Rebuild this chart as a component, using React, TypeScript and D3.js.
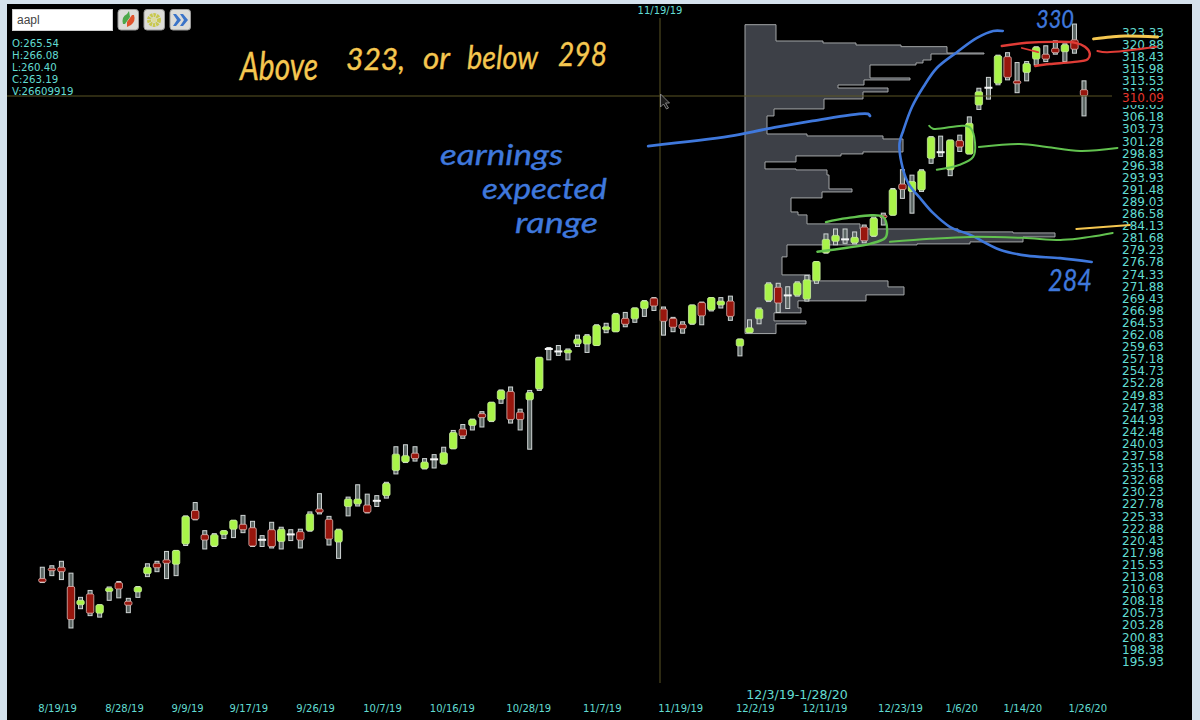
import React from "react";
import * as d3 from "d3";

// Daily candles, oldest first
const highs = [215.0,215.3,216.2,213.8,208.9,210.3,207.4,211.0,212.1,208.7,211.1,215.7,216.2,218.2,218.4,225.4,228.1,222.4,221.8,222.4,224.5,225.5,224.3,221.4,224.1,223.1,222.6,222.7,226.2,229.9,225.3,222.7,229.2,231.7,229.8,229.5,232.2,239.4,239.8,239.4,237.0,237.8,239.3,242.7,243.9,245.0,246.5,248.4,250.9,251.5,247.0,250.8,257.5,259.5,259.9,259.2,262.0,262.1,264.1,264.4,266.4,266.6,267.5,269.0,269.6,267.7,265.6,264.7,268.1,268.7,269.6,269.6,269.9,261.2,265.1,267.5,272.6,272.5,271.8,272.8,274.1,276.9,282.5,283.5,283.5,282.9,284.3,285.9,286.7,291.7,295.5,294.4,295.5,302.2,302.3,301.5,302.5,306.2,312.0,314.2,318.7,319.2,317.2,317.4,320.4,320.6,321.6,321.0,325.0,313.5];
const lows = [211.9,213.3,212.5,202.7,206.6,205.2,204.9,208.3,208.8,205.8,208.9,213.1,214.1,212.7,213.3,219.4,224.6,218.7,219.2,220.8,221.0,222.0,219.2,219.2,218.9,218.7,220.4,218.9,222.3,225.8,219.5,216.8,225.4,227.4,226.0,227.3,229.0,233.9,236.2,236.5,234.9,235.1,235.9,239.0,241.1,242.8,243.4,244.5,248.2,244.2,242.8,238.9,250.8,257.0,257.9,257.0,259.7,258.5,259.9,262.5,262.7,263.7,264.6,265.8,267.0,262.0,262.7,262.4,264.2,264.1,266.9,267.5,265.0,257.8,262.5,264.3,268.8,266.6,267.4,269.9,268.9,272.5,278.6,280.3,280.6,280.5,280.7,282.0,284.3,286.3,289.7,286.7,291.1,296.8,298.2,294.3,299.2,298.7,307.7,309.8,312.7,313.7,311.1,313.5,316.7,317.4,318.9,317.4,319.1,306.4];
const opens = [212.7,214.8,215.0,211.1,207.4,209.6,205.7,210.1,211.9,208.1,210.0,213.7,215.8,216.5,215.6,219.7,226.5,221.6,219.3,221.6,222.7,223.7,223.0,220.6,222.6,220.2,221.7,222.2,222.4,226.8,224.7,220.1,227.3,227.8,227.6,228.6,229.5,234.6,236.3,238.1,235.0,236.9,235.9,239.0,243.0,243.7,246.1,244.6,249.0,250.6,246.4,248.9,251.1,259.1,258.8,258.4,260.2,260.2,259.9,263.1,262.7,265.4,265.3,267.4,269.5,267.3,265.4,264.2,264.3,268.6,267.1,268.1,268.9,259.8,262.5,265.3,269.0,271.7,270.1,270.1,269.3,273.0,278.7,281.0,281.5,280.7,283.9,282.1,286.3,286.3,292.6,291.1,291.4,297.8,299.1,295.5,301.4,298.7,308.6,312.2,313.0,318.4,313.5,315.2,317.9,318.9,320.1,319.4,321.8,311.7];
const closes = [212.0,214.3,214.1,204.4,208.3,205.7,207.4,210.8,210.6,207.3,211.0,215.0,214.9,215.8,218.4,225.3,224.7,220.5,221.6,222.4,224.5,222.6,219.3,220.5,219.2,222.7,221.6,220.5,225.8,226.1,220.7,222.6,228.8,228.8,226.1,228.3,232.0,237.9,237.6,237.0,236.3,236.8,238.2,242.3,241.6,244.9,245.3,248.4,250.8,244.9,244.9,250.4,257.5,259.3,258.6,259.0,261.2,261.9,264.0,263.7,266.3,264.2,267.5,268.9,267.9,264.8,263.6,263.3,268.1,265.9,269.6,268.9,265.8,261.2,263.5,267.3,272.4,268.5,270.0,272.6,273.2,276.9,281.4,282.2,281.3,281.8,281.1,285.7,285.9,291.5,291.5,293.1,295.3,302.1,299.0,301.5,300.1,304.9,311.3,312.0,318.6,314.2,312.9,317.0,320.3,317.9,319.2,320.8,319.9,310.5];

// Volume profile: price edges from top to bottom, and the volume in each band
const profileEdges = [324.87,321.57,321.17,320.76,320.42,319.14,318.94,317.72,317.12,316.71,314.08,313.68,312.66,312.05,311.25,309.83,307.81,306.39,302.74,302.34,301.73,299.1,298.7,298.29,297.08,295.66,295.46,294.44,291.61,291.0,289.79,286.95,286.35,284.53,283.51,282.91,282.7,281.89,280.88,280.48,280.27,277.85,274.2,272.99,271.77,270.15,268.94,267.52,266.51,264.89,264.28,262.32];
const profileVolume = [31,78,111,156,202,239,186,178,171,125,165,119,93,143,118,79,29,22,62,138,158,118,96,51,20,51,82,84,107,77,46,53,62,115,213,268,310,278,225,172,42,37,65,143,159,121,53,56,29,61,31];

const priceTicks = [323.33,320.88,318.43,315.98,313.53,311.08,308.63,306.18,303.73,301.28,298.83,296.38,293.93,291.48,289.03,286.58,284.13,281.68,279.23,276.78,274.33,271.88,269.43,266.98,264.53,262.08,259.63,257.18,254.73,252.28,249.83,247.38,244.93,242.48,240.03,237.58,235.13,232.68,230.23,227.78,225.33,222.88,220.43,217.98,215.53,213.08,210.63,208.18,205.73,203.28,200.83,198.38,195.93];
const dateLabels = ["8/19/19","8/28/19","9/9/19","9/17/19","9/26/19","10/7/19","10/16/19","10/28/19","11/7/19","11/19/19","12/2/19","12/11/19","12/23/19","1/6/20","1/14/20","1/26/20"];
const dateBars = [1.6,8.6,15.2,21.6,28.6,35.6,42.9,50.9,58.6,66.8,74.6,81.9,89.8,96.2,102.6,109.4];
const ohlcLines = ["O:265.54","H:266.08","L:260.40","C:263.19","V:26609919"];
const lastPrice = 310.09;

// Freehand ink strokes, as [bar, price]
const inkBlueArc = [[100.5,323.6],[99.5,323.6],[97.8,322.2],[95.7,319.3],[93.6,316.1],[92.2,312.3],[91.0,308.2],[90.1,303.5],[89.7,300.9],[89.9,296.9],[90.6,292.8],[92.0,289.4],[93.2,286.75],[95.0,283.9],[97.1,282.3],[100.2,279.3],[103.0,278.1],[106.5,277.6],[109.8,276.8]];
const inkBlueEarnings = [[63.4,300.3],[71.96,302.3],[75.8,303.75],[80.6,305.4],[86.4,306.8],[86.6,306.4]];
const inkRedLoop = [[100.4,320.56],[103.0,321.2],[105.7,321.4],[108.1,321.2],[109.1,320.4],[109.6,319.1],[109.4,317.9],[107.8,317.3],[105.4,316.9],[103.9,316.5]];
const inkRedShort = [[102.5,320.15],[104.2,319.3]];
const inkRedArrow = [[110.4,319.55],[111.4,319.3],[116.6,320.4]];
const inkYellowTop = [[110.0,322],[111.8,322.4],[113.3,322.6],[116.7,322.4]];
const inkYellowLow = [[108.2,283.5],[113.8,284.3]];
const inkGreenLong = [[88.7,280.9],[92.9,281.5],[97.1,281.9],[102.6,281.7],[106.8,281.3],[109.6,281.9],[112.0,282.7]];
const inkGreenMid = [[98.0,300.1],[102.3,300.7],[105.1,300.1],[108.6,299.3],[112.5,299.9]];
const inkGreenOvalTop = [[92.8,304.4],[93.2,303.8],[96.3,304.4],[97.1,304],[97.6,300.9],[97.4,298.1],[96.0,296.5],[93.6,295.5]];
const inkGreenOvalLow = [[82,284.9],[84.2,285.7],[88,285.9],[88.4,283.3],[88.2,281.7],[86.6,280.5],[84.2,279.7],[81.1,278.9]];

const BLUE = "#3f78dc", YELLOW = "#f5c750", GREEN_INK = "#62c24f", RED_INK = "#e03c36";
const CYAN = "#62dcd2";
const AXIS_FONT = "'DejaVu Sans', sans-serif";
const HAND = "Lato, sans-serif";

const x = d3.scaleLinear().domain([0, 109]).range([42.3, 1084]);
const y = d3.scaleLinear().domain([323.33, 195.93]).range([32.3, 661.4]);
const vol = d3.scaleLinear().domain([0, 310]).range([745, 1055]);
const ink = d3.line<number[]>().x(d => x(d[0])).y(d => y(d[1])).curve(d3.curveCatmullRom.alpha(0.5));

function profilePath() {
  const pts: [number, number][] = [[vol(0), y(profileEdges[0])]];
  profileVolume.forEach((v, i) => {
    pts.push([vol(v), y(profileEdges[i])]);
    pts.push([vol(v), y(profileEdges[i + 1])]);
  });
  pts.push([vol(0), y(profileEdges[profileEdges.length - 1])]);
  return d3.line()(pts) + "Z";
}

function Candle({ i }: { i: number }) {
  const cx = x(i);
  const top = y(Math.max(opens[i], closes[i]));
  const bottom = y(Math.min(opens[i], closes[i]));
  const doji = Math.abs(opens[i] - closes[i]) <= 0.3;
  const up = closes[i] > opens[i];
  return (
    <g>
      <rect x={cx - 2} y={y(highs[i])} width={4} height={y(lows[i]) - y(highs[i])} fill="#5b6664" stroke="#d0d5d5" strokeWidth={1} />
      {doji ? (
        <rect x={cx - 4} y={(top + bottom) / 2 - 1} width={8} height={2} fill="#f6f6f6" />
      ) : (
        <rect x={cx - 3.7} y={top} width={7.4} height={Math.max(2.5, bottom - top)} rx={1.5}
          fill={up ? "#a9f44a" : "#98140c"} stroke={up ? "#c9ee9e" : "#dcb8b4"} strokeWidth={0.8} />
      )}
    </g>
  );
}

function Hand({ t, px, py, w, size, color }: { t: string; px: number; py: number; w: number; size: number; color: string }) {
  return (
    <text x={px} y={py} fontFamily={HAND} fontStyle="italic" fontWeight={400} fontSize={size} fill={color}
      stroke={color} strokeWidth={0.35} textLength={w} lengthAdjust="spacingAndGlyphs">{t}</text>
  );
}

export default function App() {
  const strokes: [number[][], string, number][] = [
    [inkBlueArc, BLUE, 2.6], [inkBlueEarnings, BLUE, 2.8],
    [inkRedLoop, RED_INK, 2.4], [inkRedShort, RED_INK, 1.8], [inkRedArrow, RED_INK, 2],
    [inkYellowTop, YELLOW, 3], [inkYellowLow, YELLOW, 2],
    [inkGreenLong, GREEN_INK, 2], [inkGreenMid, GREEN_INK, 2],
    [inkGreenOvalTop, GREEN_INK, 2], [inkGreenOvalLow, GREEN_INK, 2.4],
  ];
  const crossY = 96;
  const crossX = 660;
  return (
    <svg width={1200} height={720} style={{ position: "absolute", left: 0, top: 0, display: "block" }}>
      <defs>
        <filter id="soft" x="-5%" y="-5%" width="110%" height="110%">
          <feGaussianBlur stdDeviation="0.35" />
        </filter>
      </defs>
      <rect width={1200} height={720} fill="#d5e2ed" />
      <rect x={7} y={4} width={1185} height={716} fill="#000" />

      <g filter="url(#soft)">
        <path d={profilePath()} fill="#3c4046" stroke="#a4a6a8" strokeWidth={1} />
        {highs.map((_, i) => <Candle key={i} i={i} />)}
      </g>

      <line x1={7} x2={1112} y1={crossY} y2={crossY} stroke="#5a5524" strokeWidth={1} />
      <line x1={crossX} x2={crossX} y1={18} y2={683} stroke="#5a5524" strokeWidth={1} />
      <path d="M660.5 94 l0 13 l3 -3 l3 5 l2 -1 l-3 -5 l4 0 Z" fill="#1a1a1a" stroke="#9a9a9a" strokeWidth={0.8} />

      {priceTicks.map(t => (
        <text key={t} x={1122} y={y(t)} dy="0.36em" fontFamily={AXIS_FONT} fontSize={12} fill={CYAN}>{t.toFixed(2)}</text>
      ))}
      <rect x={1120} y={91} width={46} height={14} fill="#000" />
      <text x={1122} y={y(lastPrice)} dy="0.36em" fontFamily={AXIS_FONT} fontSize={12} fill="#e5352b">{lastPrice.toFixed(2)}</text>

      {dateLabels.map((d, i) => (
        <text key={d} x={x(dateBars[i])} y={712} textAnchor="middle" fontFamily={AXIS_FONT} fontSize={10} fill={CYAN}>{d}</text>
      ))}
      <text x={797} y={699} textAnchor="middle" fontFamily={AXIS_FONT} fontSize={12.6} fill={CYAN}>12/3/19-1/28/20</text>
      <text x={660} y={14} textAnchor="middle" fontFamily={AXIS_FONT} fontSize={10} fill={CYAN}>11/19/19</text>

      <rect x={12.5} y={9.5} width={100} height={21} fill="#fff" stroke="#d0d0d0" />
      <text x={17} y={24} fontFamily="'Liberation Sans', sans-serif" fontSize={12} fill="#444">aapl</text>
      {[118, 144, 170].map(bx => (
        <rect key={bx} x={bx} y={9.5} width={20.5} height={20.5} rx={3} fill="#dcdcd8" stroke="#9a9a9a" />
      ))}
      <path d="M123 24 q-2 -7 4 -10 l2 -3 l1 6 l-5 7 Z" fill="#4da84a" />
      <path d="M134 15 q2 6 -3 10 l-4 2 l0 -5 l5 -7 Z" fill="#e0532c" />
      <circle cx={154} cy={20} r={5} fill="none" stroke="#c9c94e" strokeWidth={4} strokeDasharray="2.4 0.8" />
      <circle cx={154} cy={20} r={2.5} fill="#dcdc9a" />
      <path d="M173 14 l4 6 l-4 6 l3 0 l5 -6 l-5 -6 Z M180 14 l4 6 l-4 6 l3 0 l5 -6 l-5 -6 Z" fill="#3b74c8" />

      {ohlcLines.map((t, i) => (
        <text key={t} x={12} y={47 + i * 12.1} fontFamily={AXIS_FONT} fontSize={10.2} fill={CYAN}>{t}</text>
      ))}

      {strokes.map(([pts, color, w], i) => (
        <path key={i} d={ink(pts) ?? ""} fill="none" stroke={color} strokeWidth={w} strokeLinecap="round" strokeLinejoin="round" />
      ))}

      <Hand t="Above" px={240} py={80} w={78} size={38} color={YELLOW} />
      <Hand t="323," px={346} py={70} w={59} size={30} color={YELLOW} />
      <Hand t="or" px={423} py={69} w={27} size={30} color={YELLOW} />
      <Hand t="below" px={467} py={69} w={71} size={33} color={YELLOW} />
      <Hand t="298" px={558} py={66} w={49} size={32} color={YELLOW} />
      <Hand t="earnings" px={440} py={165} w={123} size={28} color={BLUE} />
      <Hand t="expected" px={482} py={199} w={125} size={28} color={BLUE} />
      <Hand t="range" px={515} py={233} w={83} size={28} color={BLUE} />
      <Hand t="330" px={1036} py={28} w={38} size={26} color={BLUE} />
      <Hand t="284" px={1048} py={291} w={44} size={30} color={BLUE} />
    </svg>
  );
}
